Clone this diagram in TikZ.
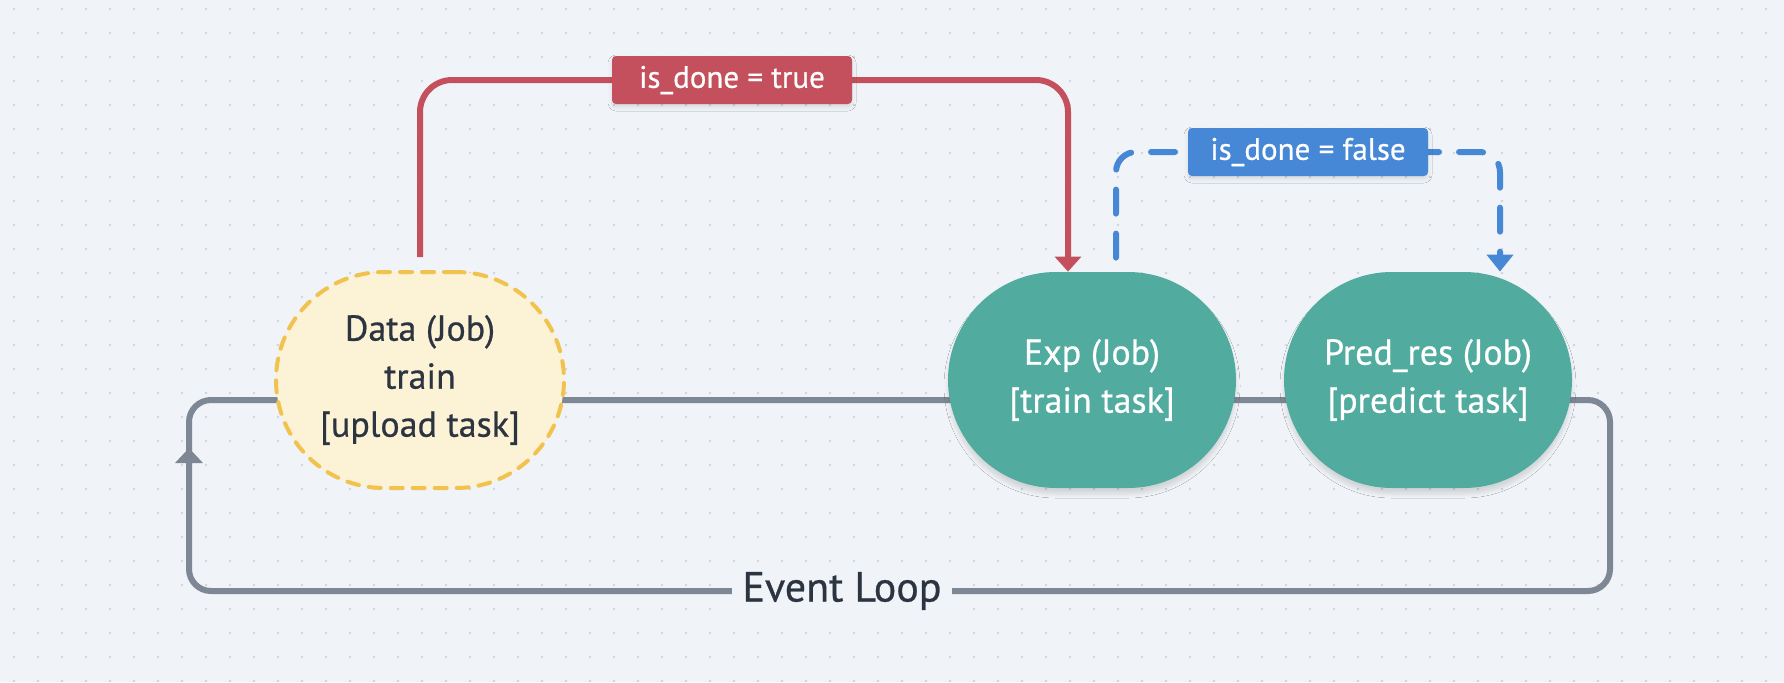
\documentclass[tikz,border=0pt]{standalone}
\usepackage{fontspec}
\setmainfont{PT Sans}[FakeBold=0.6]
\usepackage{tikz}
\usetikzlibrary{arrows.meta, shadows.blur, positioning}
\definecolor{bgc}{HTML}{F0F3F7}
\definecolor{dotc}{HTML}{CDD3DC}
\definecolor{loopc}{HTML}{7D8894}
\definecolor{inkc}{HTML}{2B3440}
\definecolor{datafill}{HTML}{FCF2D5}
\definecolor{datadraw}{HTML}{F2C24F}
\definecolor{jobc}{HTML}{52AB9F}
\definecolor{truec}{HTML}{C4505D}
\definecolor{falsec}{HTML}{4688D6}
\tikzset{
  job/.style={rectangle, rounded corners=54pt, minimum width=144pt, minimum height=108pt,
    align=center, inner sep=0pt, font=\fontsize{18}{24}\selectfont},
  datajob/.style={job, fill=datafill, draw=datadraw, line width=2pt,
    dash pattern=on 6pt off 5pt, line cap=round, text=inkc},
  runjob/.style={job, fill=jobc, text=white,
    blur shadow={shadow xshift=0pt, shadow yshift=-3pt, shadow opacity=12, shadow blur steps=6}},
  condlabel/.style={rectangle, rounded corners=2pt, minimum width=120pt, minimum height=24pt,
    inner sep=0pt, text=white, font=\fontsize{15.5}{18}\selectfont,
    blur shadow={shadow xshift=0pt, shadow yshift=-1.5pt, shadow opacity=10, shadow blur steps=4}},
  loopline/.style={draw=loopc, line width=3pt, rounded corners=11pt},
  trueline/.style={draw=truec, line width=3pt, rounded corners=16pt},
  falseline/.style={draw=falsec, line width=3pt, rounded corners=10pt,
    dash pattern=on 12pt off 10pt, line cap=round},
}
\begin{document}
\begin{tikzpicture}[x=0.5pt, y=-0.5pt]
  \useasboundingbox (0,0) rectangle (1784,682);
  \fill[bgc] (0,0) rectangle (1784,682);
  % dotted canvas
  \foreach \i in {0,...,73}
    \foreach \j in {0,...,28}
      \fill[dotc] (14+24*\i, 9+24*\j) circle (1.4);

  % event loop
  \coordinate (loopin) at (189,458);
  \coordinate (looptip) at (189,448);
  \coordinate (loopnw) at (189,400);
  \coordinate (loopne) at (1610,400);
  \coordinate (loopse) at (1610,591);
  \coordinate (loopsw) at (189,591);
  \draw[loopline, -{Triangle[length=7.5pt, width=13.5pt]}]
    (loopin) -- (loopnw) -- (loopne) -- (loopse) -- (loopsw) -- (looptip);
  \node[fill=bgc, text=inkc, inner xsep=5pt, font=\fontsize{21}{24}\selectfont]
    (evloop) at (842,591) {Event Loop};

  % jobs
  \node[datajob] (data) at (420,380) {Data (Job)\\train\\{[upload task]}};
  \node[runjob] (exp) at (1092,380) {Exp (Job)\\{[train task]}};
  \node[runjob] (pred) at (1428,380) {Pred\_res (Job)\\{[predict task]}};

  % conditions
  \coordinate (truepos) at (732,80);
  \coordinate (falsepos) at (1308,152);
  \draw[trueline, -{Triangle[length=7.5pt, width=13pt]}, shorten <=6.5pt]
    (data.north) |- (truepos) -| ([xshift=-12pt]exp.north);
  \draw[falseline, -{Triangle[length=8.5pt, width=13pt]}, shorten <=7pt]
    ([xshift=12pt]exp.north) |- (falsepos) -| ([xshift=36pt]pred.north);
  \node[condlabel, fill=truec] (truelbl) at (truepos) {is\_done = true};
  \node[condlabel, fill=falsec] (falselbl) at (falsepos) {is\_done = false};
\end{tikzpicture}
\end{document}
